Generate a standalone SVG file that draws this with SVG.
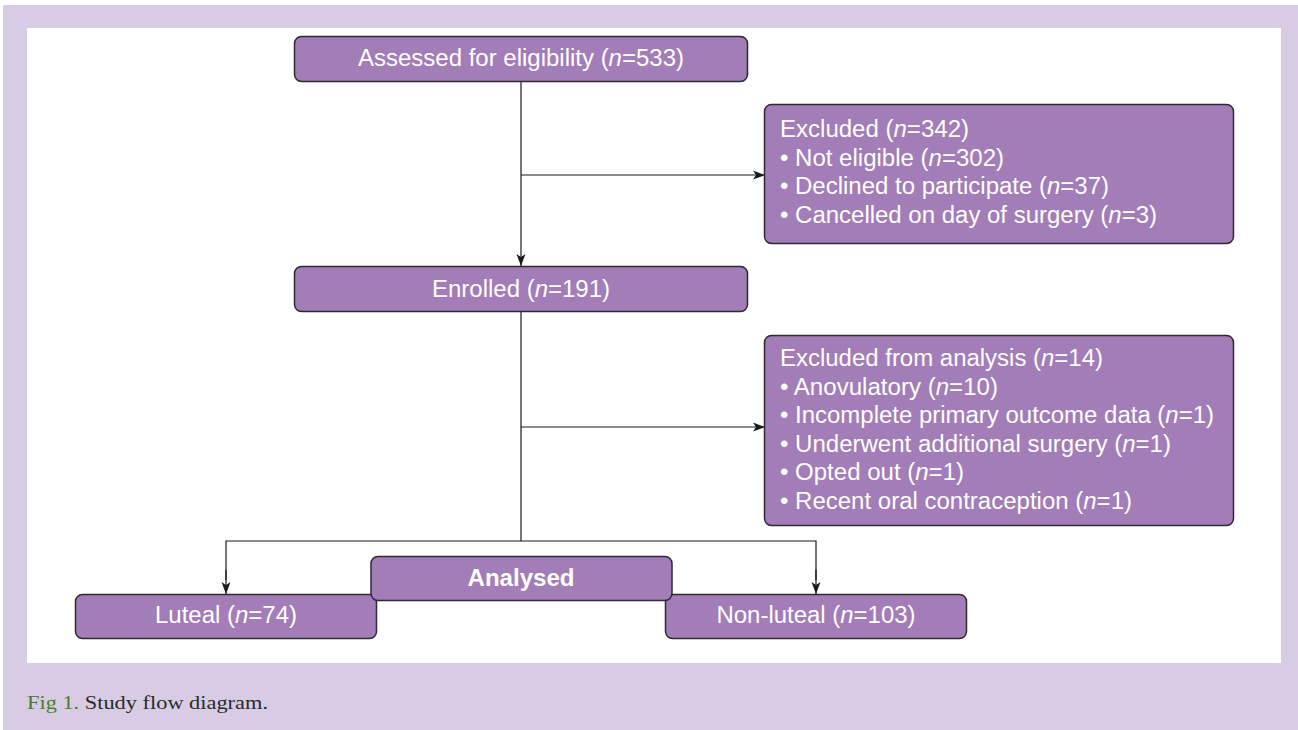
<svg xmlns="http://www.w3.org/2000/svg" width="1298" height="730" viewBox="0 0 1298 730">
<style>
.box{fill:#a27db7;stroke:#2e2a30;stroke-width:1.5}
.t{font-family:"Liberation Sans",Arial,sans-serif;font-size:23px;fill:#ffffff}
.c{text-anchor:middle}
.b{font-weight:bold}
.i{font-style:italic}
.ln{fill:none;stroke:#1a1a1a;stroke-width:1.2}
.cap{font-family:"Liberation Serif","DejaVu Serif",serif;font-size:19px;fill:#2a2a2a}
</style>
<defs>
<marker id="ah" viewBox="0 0 12 10" refX="12" refY="5" markerWidth="12" markerHeight="10" markerUnits="userSpaceOnUse" orient="auto">
<path d="M0,0.5 L12,5 L0,9.5 L3,5 Z" fill="#1a1a1a"/>
</marker>
</defs>
<rect x="3" y="5" width="1295" height="725" fill="#d8cbe4"/>
<rect x="27" y="28" width="1254" height="635" fill="#ffffff"/>

<g id="connectors">
<line class="ln" x1="521" y1="81" x2="521" y2="266" marker-end="url(#ah)"/>
<line class="ln" x1="521" y1="175" x2="765" y2="175" marker-end="url(#ah)"/>
<line class="ln" x1="521" y1="311" x2="521" y2="541"/>
<line class="ln" x1="521" y1="427" x2="765" y2="427" marker-end="url(#ah)"/>
<polyline class="ln" points="226,580 226,541 816,541 816,580"/>
<line class="ln" x1="226" y1="570" x2="226" y2="594" marker-end="url(#ah)"/>
<line class="ln" x1="816" y1="570" x2="816" y2="594" marker-end="url(#ah)"/>
</g>

<g id="assessed">
<rect class="box" x="294.5" y="36.5" width="453" height="45" rx="7"/>
<text class="t c" x="521" y="65.5" textLength="326" lengthAdjust="spacingAndGlyphs">Assessed for eligibility (<tspan class="i">n</tspan>=533)</text>
</g>

<g id="excluded">
<rect class="box" x="764.5" y="104.5" width="469" height="139" rx="7"/>
<text class="t" x="780" y="137" textLength="189" lengthAdjust="spacingAndGlyphs">Excluded (<tspan class="i">n</tspan>=342)</text>
<text class="t" x="780" y="165.5" textLength="224" lengthAdjust="spacingAndGlyphs">• Not eligible (<tspan class="i">n</tspan>=302)</text>
<text class="t" x="780" y="194" textLength="329" lengthAdjust="spacingAndGlyphs">• Declined to participate (<tspan class="i">n</tspan>=37)</text>
<text class="t" x="780" y="222.5" textLength="377" lengthAdjust="spacingAndGlyphs">• Cancelled on day of surgery (<tspan class="i">n</tspan>=3)</text>
</g>

<g id="enrolled">
<rect class="box" x="294.5" y="266.5" width="453" height="45" rx="7"/>
<text class="t c" x="521" y="297" textLength="178" lengthAdjust="spacingAndGlyphs">Enrolled (<tspan class="i">n</tspan>=191)</text>
</g>

<g id="excluded-analysis">
<rect class="box" x="764.5" y="335.5" width="469" height="190" rx="7"/>
<text class="t" x="780" y="366" textLength="323" lengthAdjust="spacingAndGlyphs">Excluded from analysis (<tspan class="i">n</tspan>=14)</text>
<text class="t" x="780" y="394.5" textLength="218" lengthAdjust="spacingAndGlyphs">• Anovulatory (<tspan class="i">n</tspan>=10)</text>
<text class="t" x="780" y="423" textLength="434" lengthAdjust="spacingAndGlyphs">• Incomplete primary outcome data (<tspan class="i">n</tspan>=1)</text>
<text class="t" x="780" y="451.5" textLength="391" lengthAdjust="spacingAndGlyphs">• Underwent additional surgery (<tspan class="i">n</tspan>=1)</text>
<text class="t" x="780" y="480" textLength="184" lengthAdjust="spacingAndGlyphs">• Opted out (<tspan class="i">n</tspan>=1)</text>
<text class="t" x="780" y="508.5" textLength="352" lengthAdjust="spacingAndGlyphs">• Recent oral contraception (<tspan class="i">n</tspan>=1)</text>
</g>

<g id="luteal">
<rect class="box" x="75.5" y="594.5" width="301" height="44" rx="7"/>
<text class="t c" x="226" y="623" textLength="142" lengthAdjust="spacingAndGlyphs">Luteal (<tspan class="i">n</tspan>=74)</text>
</g>

<g id="non-luteal">
<rect class="box" x="665.5" y="594.5" width="301" height="44" rx="7"/>
<text class="t c" x="816" y="623" textLength="199" lengthAdjust="spacingAndGlyphs">Non-luteal (<tspan class="i">n</tspan>=103)</text>
</g>

<g id="analysed">
<rect class="box" x="371" y="556.5" width="301" height="44" rx="7"/>
<text class="t c b" x="521" y="586" textLength="107" lengthAdjust="spacingAndGlyphs">Analysed</text>
</g>

<g id="caption">
<text class="cap" x="27" y="709" textLength="241" lengthAdjust="spacingAndGlyphs"><tspan fill="#4b7d2c">Fig 1.</tspan> Study flow diagram.</text>
</g>
</svg>
